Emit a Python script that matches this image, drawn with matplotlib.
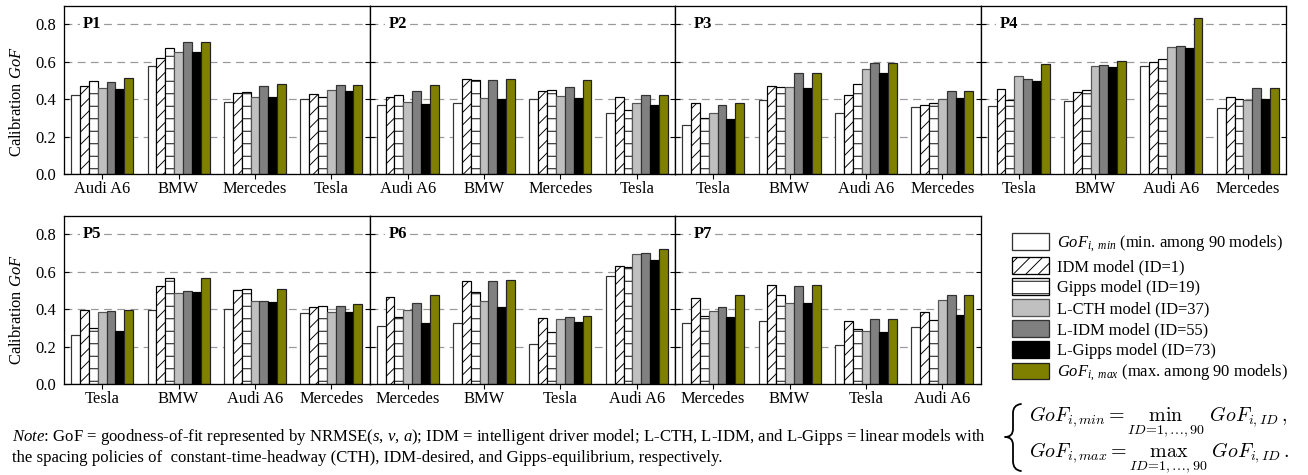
import matplotlib
matplotlib.use('Agg')
import matplotlib.pyplot as plt
import matplotlib.transforms as mtrans
from matplotlib.patches import Patch, PathPatch
from matplotlib.path import Path
import numpy as np

plt.rcParams['font.family'] = ['Liberation Serif', 'DejaVu Serif']
plt.rcParams['mathtext.fontset'] = 'custom'
plt.rcParams['mathtext.rm'] = 'Liberation Serif'
plt.rcParams['mathtext.it'] = 'Liberation Serif:italic'
plt.rcParams['mathtext.bf'] = 'Liberation Serif:bold'
plt.rcParams['hatch.linewidth'] = 0.9

# ---------------- data ----------------
panels = ['P1', 'P2', 'P3', 'P4', 'P5', 'P6', 'P7']
vehicles = [
    ['Audi A6', 'BMW', 'Mercedes', 'Tesla'],
    ['Audi A6', 'BMW', 'Mercedes', 'Tesla'],
    ['Tesla', 'BMW', 'Audi A6', 'Mercedes'],
    ['Tesla', 'BMW', 'Audi A6', 'Mercedes'],
    ['Tesla', 'BMW', 'Audi A6', 'Mercedes'],
    ['Mercedes', 'BMW', 'Tesla', 'Audi A6'],
    ['Mercedes', 'BMW', 'Tesla', 'Audi A6'],
]
gof_min = [0.424, 0.579, 0.385, 0.403,  0.367, 0.380, 0.399, 0.328,
           0.264, 0.397, 0.328, 0.358,  0.365, 0.390, 0.575, 0.353,
           0.260, 0.396, 0.401, 0.380,  0.312, 0.328, 0.216, 0.579,
           0.328, 0.335, 0.210, 0.303]
idm = [0.470, 0.622, 0.433, 0.426,  0.412, 0.506, 0.445, 0.412,
       0.380, 0.470, 0.422, 0.371,  0.454, 0.438, 0.599, 0.410,
       0.394, 0.526, 0.502, 0.413,  0.465, 0.551, 0.351, 0.633,
       0.461, 0.529, 0.337, 0.385]
gipps = [0.495, 0.673, 0.437, 0.413,  0.422, 0.502, 0.447, 0.344,
         0.299, 0.463, 0.479, 0.378,  0.397, 0.449, 0.613, 0.401,
         0.301, 0.568, 0.508, 0.415,  0.356, 0.490, 0.278, 0.628,
         0.365, 0.477, 0.296, 0.344]
l_cth = [0.460, 0.652, 0.413, 0.449,  0.385, 0.406, 0.415, 0.381,
         0.328, 0.463, 0.563, 0.401,  0.526, 0.575, 0.679, 0.397,
         0.385, 0.486, 0.445, 0.387,  0.394, 0.442, 0.346, 0.695,
         0.390, 0.435, 0.285, 0.447]
l_idm = [0.492, 0.706, 0.472, 0.474,  0.444, 0.501, 0.465, 0.422,
         0.369, 0.542, 0.595, 0.444,  0.510, 0.583, 0.684, 0.458,
         0.388, 0.495, 0.445, 0.419,  0.435, 0.551, 0.360, 0.702,
         0.410, 0.526, 0.349, 0.477]
l_gipps = [0.456, 0.654, 0.412, 0.444,  0.372, 0.399, 0.408, 0.367,
           0.292, 0.458, 0.542, 0.406,  0.499, 0.572, 0.674, 0.403,
           0.285, 0.490, 0.440, 0.383,  0.328, 0.413, 0.333, 0.663,
           0.356, 0.431, 0.278, 0.367]
gof_max = [0.513, 0.706, 0.479, 0.474,  0.478, 0.506, 0.502, 0.422,
           0.378, 0.542, 0.595, 0.444,  0.590, 0.604, 0.834, 0.458,
           0.394, 0.568, 0.508, 0.426,  0.476, 0.554, 0.365, 0.723,
           0.476, 0.527, 0.349, 0.477]
series_labels = [
    r'$GoF_{i,\ min}$ (min. among 90 models)',
    'IDM model (ID=1)',
    'Gipps model (ID=19)',
    'L-CTH model (ID=37)',
    'L-IDM model (ID=55)',
    'L-Gipps model (ID=73)',
    r'$GoF_{i,\ max}$ (max. among 90 models)',
]
yticks = [0.0, 0.2, 0.4, 0.6, 0.8]

series = [gof_min, idm, gipps, l_cth, l_idm, l_gipps, gof_max]
styles = [
    dict(facecolor='white', hatch='', edgecolor='#333333'),
    dict(facecolor='white', hatch='//', edgecolor='black'),
    dict(facecolor='white', hatch='-', edgecolor='black'),
    dict(facecolor='#c0c0c0', hatch='', edgecolor='#555555'),
    dict(facecolor='#808080', hatch='', edgecolor='#333333'),
    dict(facecolor='black', hatch='', edgecolor='black'),
    dict(facecolor='#808000', hatch='', edgecolor='#222222'),
]

# ---------------- figure ----------------
DPI = 75
W, H = 1308, 475
fig = plt.figure(figsize=(W / DPI, H / DPI), dpi=DPI)


def pt(v):
    return v * 72.0 / DPI


FS = pt(16.5)
panel_w = 305.5
rows = [(5.7, 174.0), (215.7, 384.0)]
bw = 0.116

for p in range(7):
    r = 0 if p < 4 else 1
    c = p if p < 4 else p - 4
    x0 = 64 + c * panel_w
    top, bot = rows[r]
    ax = fig.add_axes([x0 / W, 1 - bot / H, panel_w / W, (bot - top) / H])
    x = np.arange(4)
    for k, (vals, st) in enumerate(zip(series, styles)):
        v = vals[p * 4:(p + 1) * 4]
        ax.bar(x + (k - 3) * bw, v, width=bw, linewidth=pt(1.2), zorder=2, **st)
    ax.set_xlim(-0.5, 3.5)
    ax.set_ylim(0, 0.9)
    ax.set_yticks(yticks)
    ax.set_yticklabels([f'{t:.1f}' for t in yticks])
    ax.set_xticks(x)
    ax.set_xticklabels(vehicles[p])
    ax.set_axisbelow(True)
    ax.yaxis.grid(True, color='#999999', linewidth=pt(1.2), linestyle=(0, (6.5, 4.5)))
    for s in ax.spines.values():
        s.set_linewidth(pt(1.3))
        s.set_color('black')
    ax.tick_params(axis='y', direction='in', length=pt(5), width=pt(1.1),
                   left=True, right=True, labelleft=(c == 0),
                   labelsize=FS, pad=pt(8))
    ax.tick_params(axis='x', direction='out', length=pt(5), width=pt(1.1),
                   labelsize=FS, pad=pt(2))
    trans = mtrans.blended_transform_factory(ax.transAxes, ax.transData)
    ax.text(0.062, 0.8, panels[p], transform=trans, fontsize=FS, fontweight='bold',
            ha='left', va='center', zorder=3,
            bbox=dict(facecolor='white', edgecolor='none', pad=pt(3)))

# y labels
for yc in (102, 310):
    fig.text(17 / W, 1 - yc / H, r'Calibration $GoF$', rotation=90,
             ha='center', va='center', fontsize=FS)

# legend
handles = [Patch(linewidth=pt(1.3), **st) for st in styles]
fig.legend(handles, series_labels, loc='upper left',
           bbox_to_anchor=(1012 / W, 1 - 233 / H), frameon=False,
           fontsize=FS, handlelength=2.25, handleheight=1.15,
           labelspacing=0.2, handletextpad=0.5, borderpad=0, borderaxespad=0)

# note
NFS = pt(16.8)
fig.text(12 / W, 1 - 437 / H,
         r'$\mathit{Note}$: GoF = goodness-of-fit represented by NRMSE($s$, $v$, $a$); '
         'IDM = intelligent driver model; L-CTH, L-IDM, and L-Gipps = linear models with',
         ha='left', va='center', fontsize=NFS)
fig.text(12 / W, 1 - 458 / H,
         'the spacing policies of  constant-time-headway (CTH), IDM-desired, and '
         'Gipps-equilibrium, respectively.',
         ha='left', va='center', fontsize=NFS)

# formula (two left-aligned lines with a curly brace)
MFS = pt(20)
fig.text(1029 / W, 1 - 421 / H,
         r'$GoF_{i,min} = \min_{ID=1,\ldots,90}\ GoF_{i,ID},$',
         ha='left', va='baseline', fontsize=MFS, math_fontfamily='cm')
fig.text(1029 / W, 1 - 457 / H,
         r'$GoF_{i,max} = \max_{ID=1,\ldots,90}\ GoF_{i,ID}.$',
         ha='left', va='baseline', fontsize=MFS, math_fontfamily='cm')


def fpt(xp, yp):
    return (xp / W, 1 - yp / H)


brace_pts = [
    (1021, 404), (1013, 405), (1013, 413),
    (1013, 429),
    (1013, 437), (1005, 437),
    (1013, 437), (1013, 445),
    (1013, 461),
    (1013, 470), (1021, 471),
]
codes = [Path.MOVETO, Path.CURVE3, Path.CURVE3, Path.LINETO,
         Path.CURVE3, Path.CURVE3, Path.CURVE3, Path.CURVE3,
         Path.LINETO, Path.CURVE3, Path.CURVE3]
brace = PathPatch(Path([fpt(*q) for q in brace_pts], codes), transform=fig.transFigure,
                  facecolor='none', edgecolor='black', linewidth=pt(1.8),
                  capstyle='round', joinstyle='round')
fig.add_artist(brace)

fig.savefig('out.png', dpi=DPI)
